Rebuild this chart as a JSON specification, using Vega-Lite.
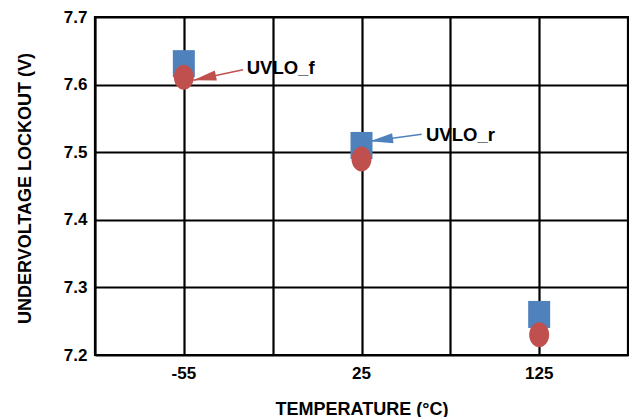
{
  "$schema": "https://vega.github.io/schema/vega-lite/v6.json",
  "width": 533,
  "height": 338,
  "autosize": {"type": "none"},
  "padding": {"left": 95, "top": 17, "right": 1, "bottom": 62},
  "background": "white",
  "config": {
    "font": "Liberation Sans",
    "view": {"stroke": "black", "strokeWidth": 2.2}
  },
  "datasets": {
    "measurements": [
      {"temperature": "-55", "series": "UVLO_r", "voltage": 7.631},
      {"temperature": "25", "series": "UVLO_r", "voltage": 7.510},
      {"temperature": "125", "series": "UVLO_r", "voltage": 7.260},
      {"temperature": "-55", "series": "UVLO_f", "voltage": 7.611},
      {"temperature": "25", "series": "UVLO_f", "voltage": 7.490},
      {"temperature": "125", "series": "UVLO_f", "voltage": 7.230}
    ],
    "callouts": [
      {"series": "UVLO_f", "text_x": 1.708, "text_y": 7.6163, "tail_x": 1.666, "tail_y": 7.6219, "tip_x": 1.107, "tip_y": 7.6064},
      {"series": "UVLO_r", "text_x": 3.726, "text_y": 7.5166, "tail_x": 3.678, "tail_y": 7.5265, "tip_x": 3.096, "tip_y": 7.5161}
    ]
  },
  "layer": [
    {
      "data": {"name": "measurements"},
      "mark": {"type": "point", "filled": true, "opacity": 1, "strokeWidth": 0, "size": 100},
      "encoding": {
        "x": {
          "field": "temperature",
          "type": "nominal",
          "sort": ["-55", "25", "125"],
          "scale": {"type": "band", "domain": ["-55", "25", "125"], "paddingInner": 0, "paddingOuter": 0},
          "axis": {
            "grid": false, "ticks": false, "tickSize": 0, "domain": false,
            "labelAngle": 0, "labelFontSize": 17, "labelFontWeight": "bold", "labelColor": "black",
            "labelPadding": 10,
            "title": "TEMPERATURE (°C)", "titleFontSize": 18, "titleFontWeight": "bold", "titleColor": "black",
            "titleBaseline": "alphabetic", "titleY": 59
          }
        },
        "y": {
          "field": "voltage",
          "type": "quantitative",
          "scale": {"domain": [7.2, 7.7], "nice": false, "zero": false},
          "axis": {
            "values": [7.2, 7.3, 7.4, 7.5, 7.6, 7.7], "format": ".1f",
            "grid": true, "gridColor": "black", "gridWidth": 2.2, "gridOpacity": 1,
            "ticks": false, "tickSize": 0, "domain": false,
            "labelFontSize": 17, "labelFontWeight": "bold", "labelColor": "black", "labelPadding": 8,
            "title": "UNDERVOLTAGE LOCKOUT (V)", "titleFontSize": 18, "titleFontWeight": "bold", "titleColor": "black",
            "titleAngle": -90, "titleBaseline": "alphabetic", "titleAlign": "center", "titleX": -65, "titleY": 171
          }
        },
        "color": {"field": "series", "type": "nominal", "scale": {"domain": ["UVLO_r", "UVLO_f"], "range": ["#4F81BD", "#C0504D"]}, "legend": null},
        "shape": {"field": "series", "type": "nominal", "scale": {"domain": ["UVLO_r", "UVLO_f"], "range": ["M-2.2,-2.7L2.2,-2.7L2.2,2.7L-2.2,2.7Z", "M-2,0A2,2.5 0 1,0 2,0A2,2.5 0 1,0 -2,0Z"]}, "legend": null}
      }
    },
    {
      "data": {"name": "callouts"},
      "layer": [
        {
          "mark": {"type": "rule", "strokeWidth": 1.6},
          "encoding": {
            "x": {
              "field": "tail_x", "type": "quantitative",
              "scale": {"domain": [0, 6], "nice": false, "zero": false},
              "axis": {"orient": "top", "values": [0, 1, 2, 3, 4, 5, 6], "grid": true, "gridColor": "black", "gridWidth": 2.2, "gridOpacity": 1, "labels": false, "ticks": false, "tickSize": 0, "domain": false, "title": null}
            },
            "y": {"field": "tail_y", "type": "quantitative", "title": "UNDERVOLTAGE LOCKOUT (V)"},
            "x2": {"field": "tip_x"},
            "y2": {"field": "tip_y"},
            "color": {"field": "series", "type": "nominal", "legend": null}
          }
        },
        {
          "transform": [{"filter": "datum.series === 'UVLO_f'"}],
          "mark": {"type": "point", "filled": true, "opacity": 1, "strokeWidth": 0, "size": 100, "shape": "M0,0L-4.6,-1L-4.6,1Z", "angle": 168},
          "encoding": {
            "x": {"field": "tip_x", "type": "quantitative"},
            "y": {"field": "tip_y", "type": "quantitative", "title": "UNDERVOLTAGE LOCKOUT (V)"},
            "color": {"field": "series", "type": "nominal", "legend": null}
          }
        },
        {
          "transform": [{"filter": "datum.series === 'UVLO_r'"}],
          "mark": {"type": "point", "filled": true, "opacity": 1, "strokeWidth": 0, "size": 100, "shape": "M0,0L-4.6,-1L-4.6,1Z", "angle": 172.3},
          "encoding": {
            "x": {"field": "tip_x", "type": "quantitative"},
            "y": {"field": "tip_y", "type": "quantitative", "title": "UNDERVOLTAGE LOCKOUT (V)"},
            "color": {"field": "series", "type": "nominal", "legend": null}
          }
        },
        {
          "mark": {"type": "text", "align": "left", "baseline": "alphabetic", "fontSize": 18.5, "fontWeight": "bold", "color": "black"},
          "encoding": {
            "x": {"field": "text_x", "type": "quantitative"},
            "y": {"field": "text_y", "type": "quantitative", "title": "UNDERVOLTAGE LOCKOUT (V)"},
            "text": {"field": "series"}
          }
        }
      ]
    }
  ],
  "resolve": {"scale": {"x": "independent"}, "axis": {"x": "independent"}}
}
